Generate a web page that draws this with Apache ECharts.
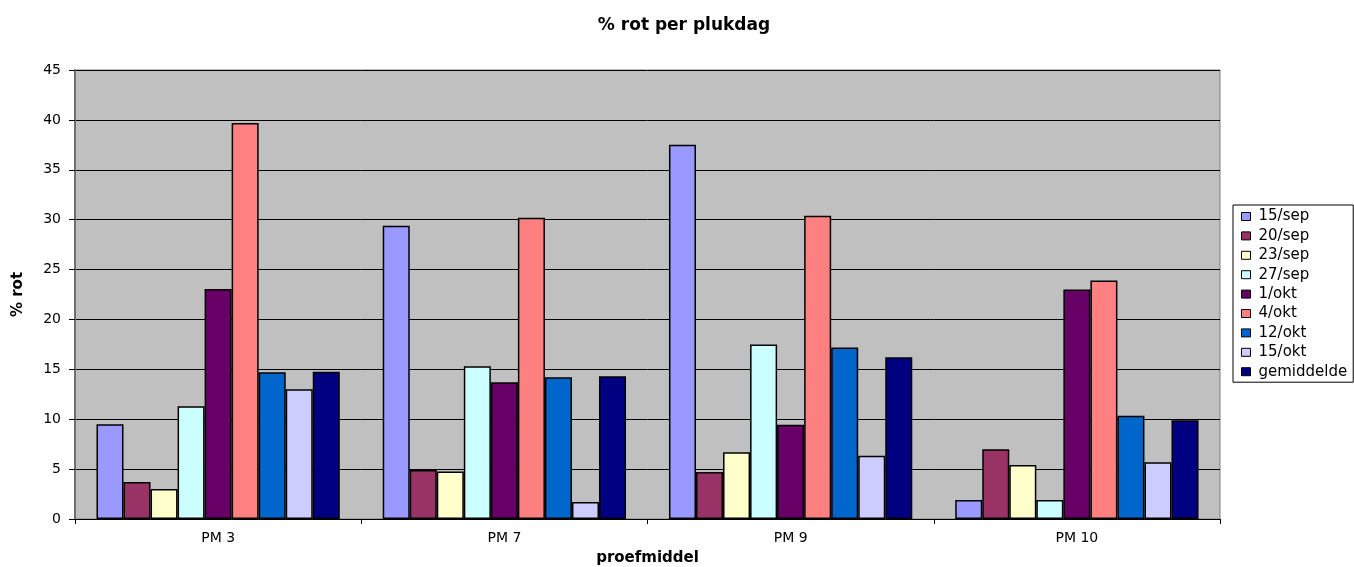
<!DOCTYPE html>
<html>
<head>
<meta charset="utf-8">
<script src="https://cdn.jsdelivr.net/npm/echarts@6/dist/echarts.min.js"></script>
<style>
  html, body { margin: 0; padding: 0; background: #fff; }
  #chart { width: 1354px; height: 567px; }
</style>
</head>
<body>
<div id="chart"></div>
<script>
// categories and values
const categories = ['PM 3', 'PM 7', 'PM 9', 'PM 10']
const seriesNames = ['15/sep', '20/sep', '23/sep', '27/sep', '1/okt', '4/okt', '12/okt', '15/okt', 'gemiddelde']
const colors = ['#9999FF', '#993366', '#FFFFCC', '#CCFFFF', '#660066', '#FF8080', '#0066CC', '#CCCCFF', '#000080']

const sep15 = [9.5, 29.4, 37.5, 1.9]
const sep20 = [3.7, 4.9, 4.7, 7.0]
const sep23 = [3.0, 4.75, 6.7, 5.4]
const sep27 = [11.3, 15.3, 17.5, 1.9]
const okt1 = [23.05, 13.7, 9.45, 23.0]
const okt4 = [39.7, 30.2, 30.4, 23.9]
const okt12 = [14.7, 14.2, 17.2, 10.35]
const okt15 = [13.0, 1.7, 6.35, 5.7]
const gemiddelde = [14.75, 14.3, 16.2, 9.9]

const yTicks = { min: 0, max: 45, interval: 5 }

const allData = [sep15, sep20, sep23, sep27, okt1, okt4, okt12, okt15, gemiddelde]
const fontFamily = '"DejaVu Sans", "Liberation Sans", sans-serif'

const chart = echarts.init(document.getElementById('chart'))

const option = {
  animation: false,
  title: {
    text: '% rot per plukdag',
    left: 679,
    top: 12,
    textAlign: 'center',
    textStyle: { fontFamily, fontSize: 17, fontWeight: 'bold', color: '#000' }
  },
  legend: {
    orient: 'vertical',
    left: 1233,
    top: 205,
    data: seriesNames,
    itemWidth: 9,
    itemHeight: 8,
    itemGap: 4.4,
    padding: [4, 6, 3, 8],
    borderColor: '#000',
    borderWidth: 1,
    icon: 'rect',
    itemStyle: { borderColor: '#000', borderWidth: 1 },
    textStyle: { fontFamily, fontSize: 15, color: '#000', padding: [0, 0, 0, 3] }
  },
  grid: {
    left: 75,
    right: 134,
    top: 70,
    bottom: 48,
    outerBoundsMode: 'none',
    show: true,
    backgroundColor: '#C0C0C0',
    borderColor: '#808080',
    borderWidth: 1
  },
  xAxis: {
    type: 'category',
    data: categories,
    name: 'proefmiddel',
    nameLocation: 'middle',
    nameGap: 32,
    nameTextStyle: { fontFamily, fontSize: 15, fontWeight: 'bold', color: '#000' },
    axisLine: { lineStyle: { color: '#000', width: 1 } },
    axisTick: { show: true, length: 5, lineStyle: { color: '#000' } },
    axisLabel: { fontFamily, fontSize: 14, color: '#000', margin: 12 }
  },
  yAxis: {
    type: 'value',
    min: yTicks.min,
    max: yTicks.max,
    interval: yTicks.interval,
    name: '% rot',
    nameLocation: 'middle',
    nameGap: 49,
    nameRotate: 90,
    nameTextStyle: { fontFamily, fontSize: 15, fontWeight: 'bold', color: '#000' },
    axisLine: { show: true, lineStyle: { color: '#707070', width: 2 } },
    axisTick: { show: true, length: 6, lineStyle: { color: '#000' } },
    axisLabel: { fontFamily, fontSize: 14, color: '#000', margin: 14 },
    splitLine: { show: true, lineStyle: { color: '#000', width: 1 } }
  },
  series: seriesNames.map((name, i) => ({
    name,
    type: 'bar',
    data: allData[i],
    barGap: '0%',
    barCategoryGap: '15%',
    itemStyle: { color: colors[i], borderColor: '#000', borderWidth: 1.5 }
  }))
}

chart.setOption(option)
</script>
</body>
</html>
